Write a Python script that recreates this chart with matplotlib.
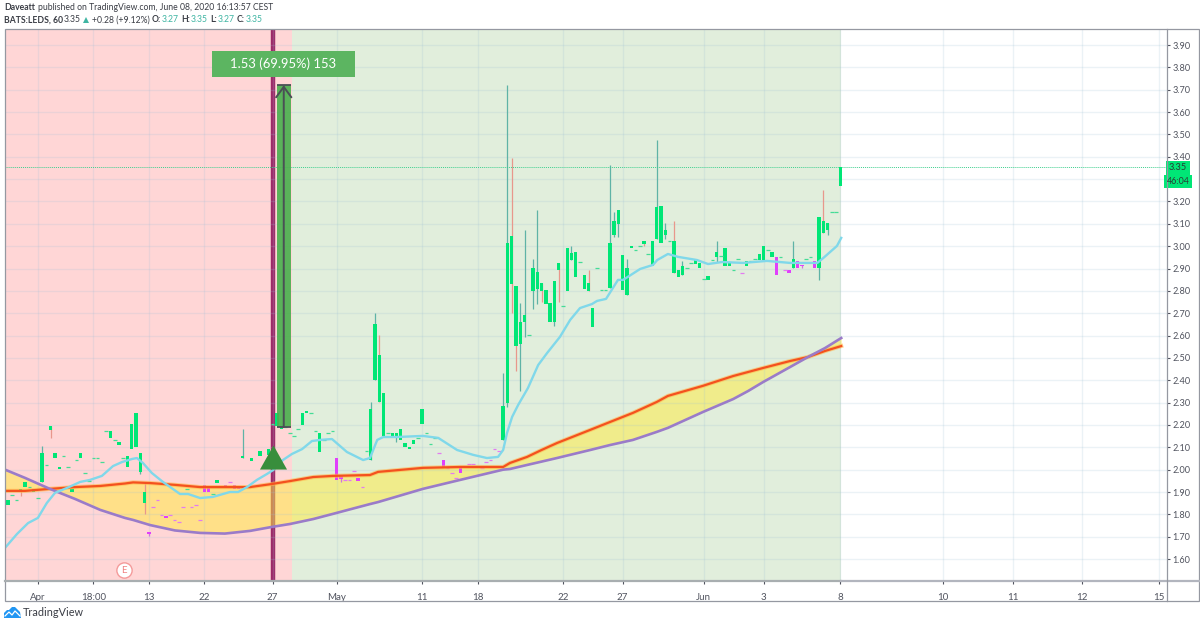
import matplotlib
matplotlib.use('Agg')
import matplotlib.pyplot as plt
from matplotlib.patches import Rectangle, Polygon

# candles with a real body
body_pos = [0, 3, 4, 6, 8, 10, 11, 12, 15, 17, 24, 26, 28, 29, 30, 31, 32, 33, 37, 46, 47, 49, 51, 53, 54, 55, 57, 59, 61,
            63, 64, 69, 70, 73, 77, 78, 82, 85, 86, 87, 88, 90, 91, 92, 93, 94, 95, 97, 102, 106,
            116, 117, 118, 119, 120, 121, 123, 124, 125, 126, 127, 128, 129, 131, 132, 133, 135, 136, 137,
            141, 142, 143, 144, 145, 146, 149, 151, 152, 153, 154, 156, 157, 158, 161, 162, 164, 166, 168, 169,
            173, 176, 177, 179, 180, 183, 184, 185, 186, 189, 190, 191, 192, 195]
body_top = [1.864, 1.914, 1.945, 1.914, 2.075, 2.195, 2.075, 2.012, 1.914, 2.075, 2.173, 2.124, 2.061, 2.204, 2.254, 2.075, 1.900, 1.721, 1.793, 1.931, 1.918, 1.954, 1.931, 1.931, 1.927, 2.061, 2.052, 2.084, 2.092,
            2.254, 2.195, 2.254, 2.262, 2.164, 2.052, 1.972, 1.963, 2.271, 2.652, 2.513, 2.343, 2.164, 2.164, 2.182, 2.119, 2.101, 2.133, 2.271, 2.043, 2.008,
            2.285, 3.014, 3.046, 2.822, 2.661, 2.692, 2.902, 2.884, 2.835, 2.804, 2.746, 2.844, 2.925, 2.992, 2.969, 2.974, 2.871, 2.835, 2.723,
            3.014, 3.113, 3.162, 2.960, 2.902, 3.001, 3.023, 3.023, 3.175, 3.180, 3.072, 3.023, 2.893, 2.911, 2.938, 2.925, 2.866, 2.974, 2.992, 2.925,
            2.934, 2.965, 3.001, 2.974, 2.952, 2.893, 2.943, 2.934, 2.916, 2.934, 3.130, 3.113, 3.104, 3.354]
body_bot = [1.842, 1.900, 1.922, 1.900, 1.945, 2.178, 2.052, 2.003, 1.900, 2.052, 2.142, 2.110, 2.012, 2.092, 2.101, 1.990, 1.851, 1.712, 1.784, 1.900, 1.900, 1.940, 1.922, 1.914, 1.914, 2.052, 2.039, 2.061, 2.066,
            2.195, 2.182, 2.200, 2.254, 2.079, 1.954, 1.958, 1.949, 2.043, 2.401, 2.303, 2.151, 2.151, 2.142, 2.133, 2.101, 2.092, 2.115, 2.204, 2.008, 1.985,
            2.133, 2.298, 2.831, 2.553, 2.562, 2.661, 2.799, 2.808, 2.799, 2.741, 2.661, 2.661, 2.893, 2.799, 2.938, 2.862, 2.808, 2.799, 2.638,
            2.813, 3.050, 3.099, 2.804, 2.781, 2.992, 3.010, 2.911, 3.032, 3.014, 3.050, 2.880, 2.862, 2.871, 2.920, 2.902, 2.849, 2.952, 2.911, 2.911,
            2.911, 2.938, 2.938, 2.952, 2.871, 2.880, 2.902, 2.902, 2.911, 2.902, 2.902, 3.059, 3.072, 3.269]
body_kind = ['m' if p in (33, 37, 46, 47, 51, 53, 54, 77, 78, 82, 102, 106, 180, 183, 185, 186, 189) else 'g' for p in body_pos]

# wicks: bar, high, low, colour
wick_pos = [3, 8, 10, 31, 32, 33, 55, 78, 85, 86, 87, 91, 116, 117, 118, 119, 120, 121, 123, 124, 125, 128, 129, 132, 136,
            141, 142, 143, 145, 149, 152, 154, 156, 158, 166, 184, 186, 190, 191, 192]
wick_high = [1.914, 2.106, 2.195, 2.075, 1.940, 1.721, 2.182, 1.972, 2.303, 2.701, 2.603, 2.164, 2.432, 3.721, 3.395, 2.822, 2.746, 3.072, 2.943, 3.162, 2.835, 2.844, 2.925, 3.001, 2.893,
             3.363, 3.153, 3.162, 2.943, 3.023, 3.475, 3.104, 3.113, 2.934, 3.023, 3.023, 2.916, 3.130, 3.251, 3.104]
wick_low = [1.882, 1.945, 2.142, 1.981, 1.802, 1.703, 2.052, 1.945, 2.043, 2.401, 2.303, 2.124, 2.133, 2.280, 2.701, 2.441, 2.352, 2.594, 2.719, 2.741, 2.750, 2.643, 2.750, 2.938, 2.799,
            2.813, 3.041, 3.041, 2.781, 3.001, 3.032, 3.032, 2.880, 2.871, 2.929, 2.902, 2.902, 2.849, 3.059, 3.050]
wick_kind = ['r', 't', 'r', 't', 'r', 'm', 't', 'm', 't', 't', 'r', 't', 't', 't', 'r', 'r', 't', 't', 't', 't', 'r', 't', 'r', 't', 'r',
             't', 't', 't', 't', 'r', 't', 't', 'r', 't', 't', 't', 'm', 't', 'r', 't']

# flat bars, open == close
dash_pos = [1, 2, 5, 7, 9, 13, 14, 16, 18, 19, 20, 21, 22, 23, 25, 27, 42, 48, 62, 65, 66, 67, 68, 71, 72, 74, 75, 76, 84, 89, 96, 98, 99, 100,
            122, 130, 134, 138, 139, 140, 147, 148, 150, 155, 159, 160, 163, 165, 167, 170, 171, 174, 175, 178, 181, 187, 188, 193, 194]
dash_price = [1.887, 1.864, 1.922, 1.873, 2.021, 2.061, 2.012, 2.043, 1.985, 1.949, 2.052, 2.052, 2.034, 2.173, 2.133, 2.052, 1.914, 1.891, 2.204, 2.191, 2.164, 2.151, 2.182, 2.254, 2.173, 2.133, 2.164, 2.173, 2.084, 2.164, 2.142, 2.164, 2.115, 2.142,
              2.603, 2.732, 2.929, 2.902, 2.804, 2.804, 2.983, 3.001, 2.965, 3.023, 2.902, 2.925, 2.853, 2.938, 2.956, 2.893, 2.943, 2.934, 2.943, 2.983, 2.952, 2.943, 2.952, 3.153, 3.153]
mdash_pos = [34, 35, 36, 38, 39, 40, 41, 43, 44, 45, 52, 79, 80, 81, 83, 101, 103, 104, 105, 108, 109, 111, 112, 113, 114, 115, 172, 182]
mdash_price = [1.833, 1.864, 1.797, 1.797, 1.775, 1.766, 1.833, 1.833, 1.842, 1.775, 1.945, 1.954, 1.954, 1.994, 1.922, 2.075, 2.008, 1.985, 1.963, 2.025, 2.025, 2.008, 2.034, 2.043, 2.092, 2.084, 2.880, 2.893]

# fast average
fast_x = [-0.7, 2.1, 4.7, 7, 9.1, 11, 13.8, 16.9, 19.2, 22, 24.6, 26.7, 29.1, 30.2, 31.6, 33.7, 36.3, 40.3, 42.2, 45, 48, 52, 53.9, 56, 58.3, 60.7, 62.1, 64.4, 66.5, 68.9, 71.2, 73.1, 75.9,
          79.4, 83.2, 84.8, 86.5, 87.9, 91.1, 97.2, 100.8, 105.2, 109, 112.2, 114.8, 116, 116.9, 118.1, 119.5, 121.8, 124.2, 126.3, 129.3, 131.7, 134, 136.8, 138, 140.1, 142.9, 144.1,
          148.1, 151.1, 152.1, 154.6, 157, 161.4, 164, 167.3, 172.2, 177.8, 183.2, 189.6, 191, 194.2, 195.2]
fast_y = [1.650, 1.712, 1.761, 1.784, 1.851, 1.896, 1.918, 1.945, 1.954, 1.972, 2.016, 2.034, 2.048, 2.052, 2.030, 1.985, 1.945, 1.891, 1.891, 1.873, 1.878, 1.900, 1.900, 1.922, 1.954, 1.981, 1.998, 2.043, 2.070, 2.092, 2.128, 2.133, 2.137,
          2.079, 2.043, 2.052, 2.133, 2.146, 2.146, 2.151, 2.142, 2.088, 2.066, 2.052, 2.057, 2.088, 2.164, 2.236, 2.289, 2.365, 2.468, 2.522, 2.594, 2.670, 2.723, 2.741, 2.755, 2.764, 2.849, 2.849,
          2.898, 2.916, 2.938, 2.965, 2.952, 2.938, 2.920, 2.929, 2.925, 2.934, 2.925, 2.925, 2.947, 3.001, 3.037]

# the two slow averages and the cloud between them
slow_x = [-0.7, 4, 9.8, 15.7, 21.6, 27.4, 29.3, 33.3, 39.1, 45, 50.8, 56.7, 61.9, 66.1, 71.5, 76.1, 84.8, 86.7, 97.2, 105.9, 116, 117.6, 121.6, 125, 128.6, 136.4, 141, 146.4, 152, 154.6, 162.8, 169.9, 173.4, 176.9, 183.2, 187.4, 191.4, 195.2]
orange_y = [1.905, 1.905, 1.914, 1.922, 1.927, 1.938, 1.943, 1.940, 1.932, 1.922, 1.922, 1.922, 1.936, 1.949, 1.967, 1.972, 1.976, 1.990, 2.008, 2.012, 2.012, 2.030, 2.057, 2.088, 2.119, 2.178, 2.213, 2.254, 2.303, 2.330, 2.375, 2.419, 2.437, 2.455, 2.486, 2.504, 2.531, 2.553]
purple_y = [2.000, 1.963, 1.914, 1.869, 1.820, 1.784, 1.775, 1.752, 1.728, 1.717, 1.714, 1.726, 1.744, 1.757, 1.779, 1.802, 1.846, 1.855, 1.914, 1.954, 2.000, 2.003, 2.021, 2.036, 2.052, 2.088, 2.110, 2.133, 2.169, 2.187, 2.258, 2.316, 2.352, 2.392, 2.459, 2.504, 2.544, 2.589]

xtick_pos = [7, 20, 33, 46, 62, 77, 97, 110, 130, 144, 163, 177, 195, 219, 235.4, 251.5, 269.7]
xtick_labels = ['Apr', '18:00', '13', '22', '27', 'May', '11', '18', '22', '27', 'Jun', '3', '8', '10', '11', '12', '15']
ytick_vals = [1.6 + 0.1 * i for i in range(24)]

last_price = 3.354
signal_bar = 62
signal_price = 2.057
band_split = 66.5
band_end = 195.2
range_bars = (63.0, 66.2)
range_prices = (2.19, 3.72)

GREEN = '#00e676'
MAGENTA = '#e040fb'
TEXT = '#50535e'
WICK = {'t': '#5fb3a6', 'r': '#e8978c', 'm': '#d070e0'}
FONT = ['Lato', 'DejaVu Sans']

fig = plt.figure(figsize=(12, 6.25), dpi=100)
ax = fig.add_axes([4.5 / 1200, 1 - 581 / 625, 1162 / 1200, 552 / 625])
ax.set_xlim(-0.82, 271.4)
ax.set_ylim(1.5018, 3.9716)

ax.axvspan(-0.82, band_split, color='#ffd6d6', lw=0, zorder=0)
ax.axvspan(band_split, band_end, color='#e1eedc', lw=0, zorder=0)
ax.grid(True, color='#9fc0d6', alpha=0.2, lw=1)
ax.set_axisbelow(False)
for line in ax.get_xgridlines() + ax.get_ygridlines():
    line.set_zorder(0.5)

ax.axvline(signal_bar, color='#9c2a68', lw=3.2, zorder=1)
ax.fill_between(slow_x, orange_y, purple_y, color='#ffeb3b', alpha=0.5, lw=0, zorder=2)

ax.vlines(wick_pos, wick_low, wick_high, colors=[WICK[k] for k in wick_kind], lw=0.9, zorder=3)
heights = [t - b for t, b in zip(body_top, body_bot)]
ax.bar(body_pos, heights, bottom=body_bot, width=0.78,
       color=[GREEN if k == 'g' else MAGENTA for k in body_kind], lw=0, zorder=4)
ax.hlines(dash_price, [p - 0.42 for p in dash_pos], [p + 0.42 for p in dash_pos], colors='#45dc96', lw=0.9, zorder=4)
ax.hlines(mdash_price, [p - 0.42 for p in mdash_pos], [p + 0.42 for p in mdash_pos], colors='#e27cf0', lw=0.9, zorder=4)

ax.plot(slow_x, orange_y, color='#ffb74d', lw=3.0, alpha=0.6, zorder=5)
ax.plot(slow_x, orange_y, color='#f4511e', lw=1.6, zorder=5)
ax.plot(slow_x, purple_y, color='#9a7bc9', lw=1.9, zorder=5)
ax.plot(fast_x, fast_y, color='#80d8ea', lw=1.7, zorder=6)

ax.axhline(last_price, color='#3fcf8e', lw=0.7, ls=(0, (1, 1)), zorder=3)

# measure tool drawn over the candles
ax.add_patch(Rectangle((range_bars[0], range_prices[0]), range_bars[1] - range_bars[0], range_prices[1] - range_prices[0],
                       fc='#4caf50', ec='none', alpha=0.92, zorder=7))
ax.hlines(range_prices, range_bars[0], range_bars[1], colors='#4a4f55', lw=1.3, zorder=8)
ax.annotate('', xy=(sum(range_bars) / 2, range_prices[1]), xytext=(sum(range_bars) / 2, range_prices[0]),
            arrowprops=dict(arrowstyle='->,head_length=0.75,head_width=0.55', color='#4a4f55', lw=1.4, shrinkA=0, shrinkB=0), zorder=8)
ax.plot([signal_bar], [signal_price], ls='none', marker=[(-1, -0.89), (1, -0.89), (0, 0.89)], ms=19.5,
        color='#388e3c', mew=0, zorder=8)
ax.plot([27.2], [1.551], ls='none', marker='o', ms=11, mfc='white', mec='#f49a9a', mew=1, zorder=8)
ax.text(27.2, 1.551, 'E', color='#f08080', fontsize=7, ha='center', va='center', family=FONT, zorder=9)

ax.set_xticks(xtick_pos)
ax.set_xticklabels(xtick_labels, family=FONT, fontsize=7, color=TEXT)
ax.set_yticks(ytick_vals)
# 3.30 sits behind the countdown box in the picture
ax.set_yticklabels(['' if abs(v - 3.3) < 0.01 else '%.2f' % v for v in ytick_vals], family=FONT, fontsize=6.6, color=TEXT)
ax.yaxis.tick_right()
ax.tick_params(axis='x', length=2.5, width=0.8, color='#50535e', pad=6)
ax.tick_params(axis='y', length=2.5, width=0.8, color='#50535e', pad=2)
for side in ax.spines:
    ax.spines[side].set_visible(False)

# page furniture in pixel coordinates
ov = fig.add_axes([0, 0, 1, 1], zorder=10)
ov.set_xlim(0, 1200)
ov.set_ylim(625, 0)
ov.axis('off')
ov.patch.set_alpha(0)

frame = '#9598a1'
ov.add_patch(Rectangle((4.5, 29), 1194.5, 572, fc='none', ec=frame, lw=0.9))
ov.plot([4.5, 841], [581, 581], color='#a8aeb0', lw=1.6)
ov.plot([841, 1199], [581, 581], color='#b2b5be', lw=1.6)
ov.plot([1166.5, 1166.5], [29, 601], color=frame, lw=0.9)

ov.add_patch(Rectangle((212, 51), 143, 26, fc='#5cb561', ec='none'))
ov.text(283.5, 64, '1.53 (69.95%) 153', color='white', fontsize=9.4, ha='center', va='center', family='Lato')

ov.add_patch(Rectangle((1166, 161), 24, 14, fc=GREEN, ec='none'))
ov.text(1178, 168, '3.35', color='#2a3a35', fontsize=6.6, ha='center', va='center', family='Lato')
ov.add_patch(Rectangle((1164, 175), 28, 13, fc=GREEN, ec='none'))
ov.text(1178, 181.5, '46:04', color='#2a3a35', fontsize=6.4, ha='center', va='center', family='Lato')

dark = '#3a3d45'
teal = '#3fb5a3'
hs = 6.2
ov.text(4, 8, 'Daveatt', color=dark, fontsize=hs, fontweight='bold', va='center', family='Lato')
ov.text(38, 8, 'published on TradingView.com, June 08, 2020 16:13:57 CEST', color=dark, fontsize=hs, va='center', family='Lato')
ov.text(4, 20, 'BATS:LEDS, 60', color=dark, fontsize=hs, fontweight='bold', va='center', family='Lato')
ov.text(64, 20, '3.35', color=dark, fontsize=hs, va='center', family='Lato')
ov.add_patch(Polygon([(83, 23), (89, 23), (86, 17)], fc=teal, ec='none'))
ov.text(92, 20, '+0.28 (+9.12%)', color=dark, fontsize=hs, va='center', family='Lato')
for lab, val, xl, xv in [('O:', '3.27', 152, 162), ('H:', '3.35', 181, 191), ('L:', '3.27', 210, 218), ('C:', '3.35', 237, 246)]:
    ov.text(xl, 20, lab, color=dark, fontsize=hs, fontweight='bold', va='center', family='Lato')
    ov.text(xv, 20, val, color=teal, fontsize=hs, va='center', family='Lato')

# TradingView logo
ov.add_patch(Polygon([(4, 618), (4, 613), (7, 610), (9, 610), (12, 607), (15, 607), (18, 610), (20, 612), (21, 618)],
                     fc='#2196f3', ec='none'))
ov.plot([5, 9, 12, 15, 20], [616, 612, 615, 611, 616], color='white', lw=0.9)
ov.text(23, 613, 'TradingView', color='#3a3d45', fontsize=7.8, va='center', family='Lato')

fig.savefig('out.png', dpi=100)
